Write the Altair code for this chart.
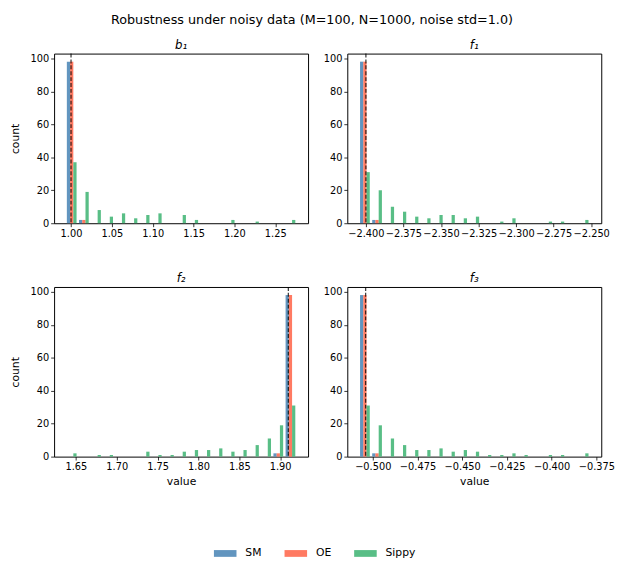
import altair as alt
import pandas as pd

series = ["SM", "OE", "Sippy"]
colors = ["#4682b4", "#ff6347", "#3cb371"]

panels = ["b1", "f1", "f2", "f3"]
titles = ["b₁", "f₁", "f₂", "f₃"]
true_values = [1.000, -2.400, 1.910, -0.504]
bin_lo = [0.9934, -2.4047, 1.6374, -0.5078]
bin_hi = [1.2760, -2.2510, 1.9200, -0.3787]

# counts per bin (19 bins per panel)
sm_b1 = [98, 2, 0, 0, 0, 0, 0, 0, 0, 0, 0, 0, 0, 0, 0, 0, 0, 0, 0]
oe_b1 = [98, 2, 0, 0, 0, 0, 0, 0, 0, 0, 0, 0, 0, 0, 0, 0, 0, 0, 0]
sippy_b1 = [37, 19, 8, 4, 6, 3, 5, 6, 0, 5, 2, 0, 0, 2, 0, 1, 0, 0, 2]

sm_f1 = [98, 2, 0, 0, 0, 0, 0, 0, 0, 0, 0, 0, 0, 0, 0, 0, 0, 0, 0]
oe_f1 = [98, 2, 0, 0, 0, 0, 0, 0, 0, 0, 0, 0, 0, 0, 0, 0, 0, 0, 0]
sippy_f1 = [31, 20, 10, 7, 4, 3, 5, 5, 3, 4, 0, 1, 3, 0, 0, 1, 1, 0, 2]

sm_f2 = [0, 0, 0, 0, 0, 0, 0, 0, 0, 0, 0, 0, 0, 0, 0, 0, 0, 2, 98]
oe_f2 = [0, 0, 0, 0, 0, 0, 0, 0, 0, 0, 0, 0, 0, 0, 0, 0, 0, 2, 98]
sippy_f2 = [2, 0, 1, 1, 0, 0, 3, 1, 1, 3, 4, 4, 5, 3, 4, 7, 11, 19, 31]

sm_f3 = [98, 2, 0, 0, 0, 0, 0, 0, 0, 0, 0, 0, 0, 0, 0, 0, 0, 0, 0]
oe_f3 = [98, 2, 0, 0, 0, 0, 0, 0, 0, 0, 0, 0, 0, 0, 0, 0, 0, 0, 0]
sippy_f3 = [31, 19, 11, 7, 4, 4, 5, 3, 4, 3, 1, 1, 2, 1, 0, 1, 1, 0, 2]

counts = {
    "b1": [sm_b1, oe_b1, sippy_b1],
    "f1": [sm_f1, oe_f1, sippy_f1],
    "f2": [sm_f2, oe_f2, sippy_f2],
    "f3": [sm_f3, oe_f3, sippy_f3],
}

x_ticks = [
    [1.00, 1.05, 1.10, 1.15, 1.20, 1.25],
    [-2.400, -2.375, -2.350, -2.325, -2.300, -2.275, -2.250],
    [1.65, 1.70, 1.75, 1.80, 1.85, 1.90],
    [-0.500, -0.475, -0.450, -0.425, -0.400, -0.375],
]
x_formats = [".2f", ".3f", ".2f", ".3f"]
y_ticks = [0, 20, 40, 60, 80, 100]

rows = []
for i, p in enumerate(panels):
    lo, hi = bin_lo[i], bin_hi[i]
    nb = len(counts[p][0])
    w = (hi - lo) / nb
    bw = 0.8 / 3 * w
    for si, s in enumerate(series):
        for k, c in enumerate(counts[p][si]):
            if c <= 0:
                continue
            x0 = lo + (k + 0.1) * w + si * bw
            rows.append({"panel": p, "series": s, "bin": k, "count": c,
                         "x0": x0, "x1": x0 + bw})
df = pd.DataFrame(rows)

W, H = 259, 173
FONT = "DejaVu Sans"


def panel(i, show_x_title, show_y_title):
    p = panels[i]
    d = df[df.panel == p]
    lo, hi = bin_lo[i], bin_hi[i]
    m = 0.05 * (hi - lo)
    xscale = alt.Scale(domain=[lo - m, hi + m], nice=False, zero=False)
    xaxis = alt.Axis(values=x_ticks[i], format=x_formats[i],
                     labelExpr="replace(datum.label, '-', '\u2212')",
                     title="value" if show_x_title else None,
                     labelOverlap=False, labelFlush=False)
    yaxis = alt.Axis(values=y_ticks, title="count" if show_y_title else None,
                     labelOverlap=False)
    bars = alt.Chart(d).mark_bar(opacity=0.85, strokeWidth=0).encode(
        x=alt.X("x0:Q", scale=xscale, axis=xaxis),
        x2="x1:Q",
        y=alt.Y("count:Q", scale=alt.Scale(domain=[0, 102.9], nice=False), axis=yaxis),
        y2=alt.datum(0),
        color=alt.Color("series:N", scale=alt.Scale(domain=series, range=colors),
                        legend=alt.Legend(title=None)),
    )
    rule = alt.Chart(pd.DataFrame({"v": [true_values[i]]})).mark_rule(
        color="black", strokeDash=[4, 2], strokeWidth=1.3, opacity=0.75
    ).encode(x=alt.X("v:Q", scale=xscale, axis=xaxis))
    return alt.layer(bars, rule).properties(
        width=W, height=H,
        title=alt.TitleParams(titles[i], fontStyle="italic", fontSize=12,
                              fontWeight="normal", font=FONT, offset=1),
    )


top = alt.hconcat(panel(0, False, True), panel(1, False, False), spacing=13)
bottom = alt.hconcat(panel(2, True, True), panel(3, True, False), spacing=13)

chart = alt.vconcat(top, bottom, spacing=33).properties(
    title=alt.TitleParams("Robustness under noisy data (M=100, N=1000, noise std=1.0)",
                          fontSize=13, fontWeight="normal", font=FONT,
                          anchor="middle", offset=12),
    padding={"left": 0, "top": 0, "right": 0, "bottom": 0},
).configure_view(
    stroke="black", strokeWidth=1
).configure_axis(
    grid=False, domain=False, tickColor="black", tickSize=3.5, tickWidth=0.8,
    labelFontSize=10, labelColor="black", labelFont=FONT, labelPadding=2,
    titleFontSize=11, titleFontWeight="normal", titleFont=FONT, titleColor="black",
).configure_axisX(
    titlePadding=4
).configure_axisY(
    titlePadding=10
).configure_legend(
    orient="none", legendX=163, legendY=498, direction="horizontal",
    symbolType="M-1,-0.3H1V0.3H-1Z", symbolSize=529, symbolStrokeWidth=0,
    symbolOpacity=0.85, labelFontSize=11, labelFont=FONT, labelColor="black",
    labelOffset=9, columnPadding=23, padding=0,
).configure_title(color="black")

chart.save("out.html", embed_options={"renderer": "svg", "actions": False})
